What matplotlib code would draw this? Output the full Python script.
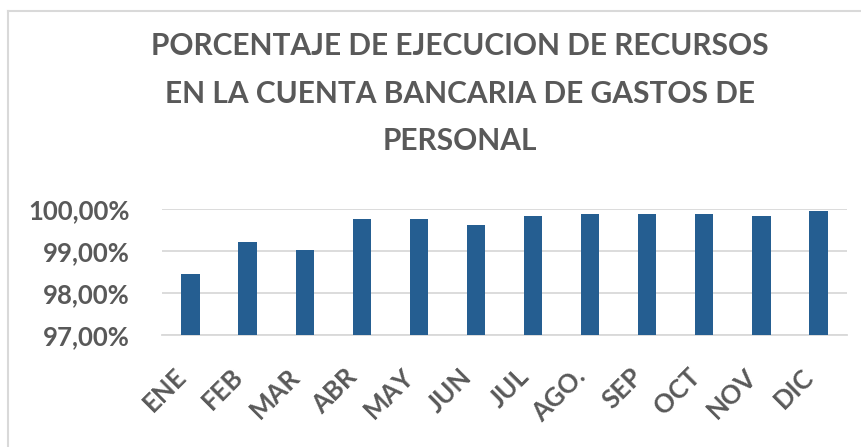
import matplotlib
matplotlib.use("Agg")
import matplotlib.pyplot as plt
from matplotlib.ticker import FuncFormatter, FixedLocator
from matplotlib.lines import Line2D

months = ["ENE", "FEB", "MAR", "ABR", "MAY", "JUN", "JUL", "AGO.", "SEP", "OCT", "NOV", "DIC"]
values = [98.45, 99.22, 99.03, 99.76, 99.76, 99.63, 99.83, 99.89, 99.89, 99.89, 99.83, 99.96]
yticks = [97, 98, 99, 100]
title_lines = ["PORCENTAJE DE EJECUCION DE RECURSOS",
               "EN LA CUENTA BANCARIA DE GASTOS DE",
               "PERSONAL"]

text_color = "#595959"
bar_color = "#255E91"
grid_color = "#D9D9D9"
FONT = "Lato"

W, H = 861, 447
fig = plt.figure(figsize=(W / 100, H / 100), dpi=100)
fig.patch.set_facecolor("white")

# chart border (left and top visible)
fig.add_artist(Line2D([8 / W, 8 / W], [0, 1 - 11 / H], transform=fig.transFigure,
                      color=grid_color, lw=1.5))
fig.add_artist(Line2D([8 / W, 1], [1 - 11 / H, 1 - 11 / H], transform=fig.transFigure,
                      color=grid_color, lw=1.5))

ax = fig.add_axes([162 / W, 1 - 335 / H, (847 - 162) / W, (335 - 209) / H])
x = list(range(len(months)))
ax.bar(x, values, width=0.32, color=bar_color, zorder=3)
ax.set_ylim(97, 100)
ax.set_xlim(-0.5, len(months) - 0.5)
ax.yaxis.set_major_locator(FixedLocator(yticks))
ax.yaxis.set_major_formatter(FuncFormatter(lambda v, p: f"{v:.2f}%".replace(".", ",")))
ax.grid(axis="y", color=grid_color, lw=1.3, zorder=0)
for s in ["top", "right", "left"]:
    ax.spines[s].set_visible(False)
ax.spines["bottom"].set_color(grid_color)
ax.spines["bottom"].set_linewidth(1.3)
ax.tick_params(axis="both", length=0)
ax.tick_params(axis="y", pad=23)
ax.tick_params(axis="x", pad=21)
ax.set_xticks(x)
ax.set_xticklabels(months, rotation=45, ha="right", rotation_mode="default")
for lab in ax.get_xticklabels():
    lab.set_fontfamily(FONT)
    lab.set_fontweight("bold")
    lab.set_fontsize(18.5)
    lab.set_color(text_color)
for lab in ax.get_yticklabels():
    lab.set_fontfamily(FONT)
    lab.set_fontweight("bold")
    lab.set_fontsize(18.5)
    lab.set_color(text_color)

title_y = [46, 94, 141]
for line, yy in zip(title_lines, title_y):
    fig.text(460 / W, 1 - yy / H, line, ha="center", va="center", fontfamily=FONT,
             fontweight="bold", fontsize=21.5, color=text_color)

fig.savefig("out.png", dpi=100)
